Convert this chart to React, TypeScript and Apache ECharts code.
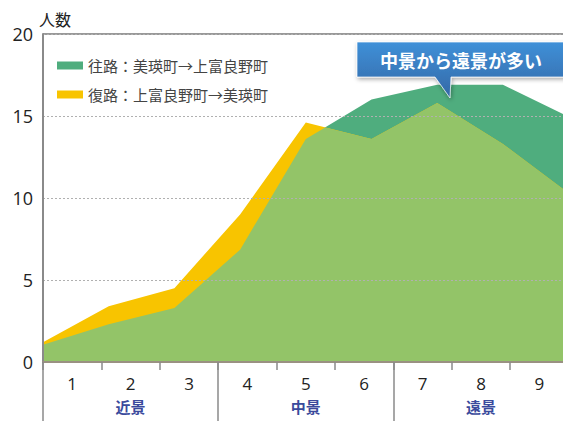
import React, { useEffect, useRef } from "react";
import * as echarts from "echarts";

const categories = ["1", "2", "3", "4", "5", "6", "7", "8", "9"];
const groups = ["近景", "中景", "遠景"];
const outboundName = "往路：美瑛町→上富良野町";
const inboundName = "復路：上富良野町→美瑛町";
const outbound = [1.05, 2.3, 3.3, 6.85, 13.6, 16.0, 16.9, 16.9, 14.95];
const inbound = [1.2, 3.4, 4.5, 9.0, 14.6, 13.6, 15.8, 13.3, 10.3];
const calloutText = "中景から遠景が多い";

const DARK = "#4fad7e";
const LIGHT = "#93c468";
const YELLOW = "#f8c400";
const FONT = "'Open Sans', 'Noto Sans CJK JP', sans-serif";
const JFONT = "'Noto Sans CJK JP', sans-serif";

// overlap (region under both series), derived from the two series in pixel space
function overlapPolygon(api: any, a: number[], b: number[]) {
  const pa = a.map((v, i) => api.coord([i, v]));
  const pb = b.map((v, i) => api.coord([i, v]));
  const pts: number[][] = [];
  for (let i = 0; i < a.length; i++) {
    pts.push(a[i] <= b[i] ? pa[i] : pb[i]);
    if (i < a.length - 1) {
      const d0 = a[i] - b[i];
      const d1 = a[i + 1] - b[i + 1];
      if (d0 * d1 < 0) {
        const t = d0 / (d0 - d1);
        pts.push([
          pa[i][0] + t * (pa[i + 1][0] - pa[i][0]),
          pa[i][1] + t * (pa[i + 1][1] - pa[i][1]),
        ]);
      }
    }
  }
  pts.push(api.coord([a.length - 1, 0]));
  pts.push(api.coord([0, 0]));
  return pts;
}

export default function App() {
  const ref = useRef<HTMLDivElement>(null);
  useEffect(() => {
    if (!ref.current) return;
    const chart = echarts.init(ref.current, undefined, { renderer: "svg" });
    chart.setOption({
      animation: false,
      textStyle: { fontFamily: FONT },
      grid: { left: 43, right: 1.4, top: 34, bottom: 59, containLabel: false },
      legend: {
        orient: "vertical",
        left: 52,
        top: 53,
        itemWidth: 26,
        itemHeight: 8,
        itemGap: 14,
        icon: "rect",
        data: [outboundName, inboundName],
        textStyle: { fontSize: 15, color: "#444", fontFamily: JFONT },
      },
      xAxis: [
        {
          type: "category",
          data: categories,
          boundaryGap: false,
          show: false,
        },
        {
          type: "category",
          data: categories,
          position: "bottom",
          boundaryGap: true,
          axisLine: { show: true, lineStyle: { color: "#9a9182", width: 2 } },
          axisTick: { show: true, length: 8, lineStyle: { color: "#8a8a8a", width: 1.5 } },
          axisLabel: { fontSize: 17, color: "#222", margin: 13 },
          z: 10,
        },
        {
          type: "category",
          data: groups,
          position: "bottom",
          boundaryGap: true,
          axisLine: { show: false },
          axisTick: { show: true, length: 59, lineStyle: { color: "#8a8a8a", width: 1.5 } },
          axisLabel: { fontSize: 15, color: "#3a4a9c", fontWeight: "bold", margin: 37, fontFamily: JFONT },
          z: 10,
        },
      ],
      yAxis: {
        type: "value",
        min: 0,
        max: 20,
        interval: 5,
        name: "人数",
        nameLocation: "end",
        nameGap: 7,
        nameTextStyle: { fontSize: 16, color: "#222", align: "left", verticalAlign: "bottom", padding: [0, 0, 0, -4], fontFamily: JFONT },
        axisLine: { show: true, lineStyle: { color: "#8a8a8a", width: 2 } },
        axisTick: { show: false },
        axisLabel: { fontSize: 18, color: "#222", margin: 10 },
        splitLine: { show: true, lineStyle: { color: "#b0b0b0", type: [2, 2], width: 1 } },
        z: 10,
      },
      series: [
        {
          name: outboundName,
          type: "line",
          xAxisIndex: 0,
          data: outbound,
          symbol: "none",
          lineStyle: { width: 0 },
          itemStyle: { color: DARK },
          areaStyle: { color: DARK, opacity: 1 },
          z: 2,
          markLine: {
            silent: true,
            symbol: "none",
            label: { show: false },
            lineStyle: { color: "#999", type: "solid", width: 2 },
            data: [{ yAxis: 20 }],
          },
        },
        {
          name: inboundName,
          type: "line",
          xAxisIndex: 0,
          data: inbound,
          symbol: "none",
          lineStyle: { width: 0 },
          itemStyle: { color: YELLOW },
          areaStyle: { color: YELLOW, opacity: 1 },
          z: 2,
        },
        {
          type: "custom",
          xAxisIndex: 0,
          yAxisIndex: 0,
          data: [[0, 0]],
          silent: true,
          z: 3,
          renderItem: (params: any, api: any) => {
            if (params.dataIndex !== 0) return null;
            return {
              type: "polygon",
              shape: { points: overlapPolygon(api, outbound, inbound) },
              style: { fill: LIGHT },
            };
          },
        },
      ],
      graphic: [
        {
          type: "polygon",
          shape: {
            points: [
              [357, 42],
              [585, 42],
              [585, 77],
              [451, 77],
              [450, 98],
              [435, 77],
              [357, 77],
            ],
          },
          style: {
            fill: {
              type: "linear",
              x: 0,
              y: 0,
              x2: 0,
              y2: 1,
              colorStops: [
                { offset: 0, color: "#3f90d8" },
                { offset: 1, color: "#3468a6" },
              ],
            },
            stroke: "rgba(255,255,255,0.7)",
            lineWidth: 1,
            shadowBlur: 4,
            shadowOffsetX: 1,
            shadowOffsetY: 2,
            shadowColor: "rgba(0,0,0,0.35)",
          },
          z: 100,
        },
        {
          type: "text",
          x: 461,
          y: 59.5,
          style: {
            text: calloutText,
            fill: "#fff",
            fontSize: 18,
            fontWeight: "bold",
            fontFamily: JFONT,
            align: "center",
            verticalAlign: "middle",
          },
          z: 101,
        },
      ],
    });
    return () => chart.dispose();
  }, []);
  return (
    <div style={{ position: "fixed", left: 0, top: 0, width: 563, height: 421, overflow: "hidden", background: "#fff" }}>
      <div ref={ref} style={{ width: 570, height: 421 }} />
    </div>
  );
}
